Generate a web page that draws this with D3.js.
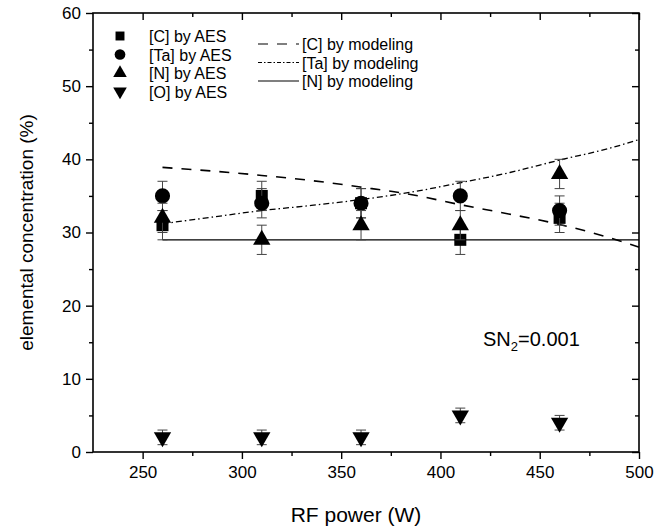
<!doctype html>
<html>
  <head>
    <meta charset="utf-8">
    <title>elemental concentration</title>
    <script src="https://d3js.org/d3.v7.min.js"></script>
    <style type="text/css">
      body { margin: 0; background-color: #ffffff; }
      text { font-family: "Liberation Sans", Arial, sans-serif; fill: #000; }
    </style>
  </head>
  <body>
    <script>
      // data
      var power = [260, 310, 360, 410, 460];
      var cAES = [31, 35, 34, 29, 32];
      var taAES = [35, 34, 34, 35, 33];
      var nAES = [32, 29, 31, 31, 38];
      var oAES = [2, 2, 2, 5, 4];
      var errMain = [2, 2, 2, 2, 2];
      var errO = [1, 1, 1, 1, 1];

      var modelPower = [260, 285, 310, 335, 360, 385, 410, 435, 460, 485, 500];
      var cModel = [38.9, 38.4, 37.8, 37.1, 36.2, 35.2, 33.8, 32.5, 31.1, 29.3, 28.0];
      var taModel = [31.2, 32.1, 33.0, 33.7, 34.5, 35.5, 36.8, 38.2, 39.9, 41.5, 42.7];
      var nModel = [29, 29, 29, 29, 29, 29, 29, 29, 29, 29, 29];

      var xMajor = [250, 300, 350, 400, 450, 500];
      var xMinor = [275, 325, 375, 425, 475];
      var yMajor = [0, 10, 20, 30, 40, 50, 60];
      var yMinor = [5, 15, 25, 35, 45, 55];

      //Width and height
      var w = 671;
      var h = 529;
      var pl = 93, pr = 639, pt = 13, pb = 452;

      var x = d3.scaleLinear().domain([225, 500]).range([pl, pr]);
      var y = d3.scaleLinear().domain([0, 60]).range([pb, pt]);

      var svg = d3.select("body")
        .append("svg")
        .attr("width", w)
        .attr("height", h);

      // model curves
      var line = d3.line()
        .x(function(d) { return x(d[0]); })
        .y(function(d) { return y(d[1]); })
        .curve(d3.curveMonotoneX);

      function drawModel(vals, dash, width) {
        svg.append("path")
          .datum(d3.zip(modelPower, vals))
          .attr("d", line)
          .attr("fill", "none")
          .attr("stroke", "#000")
          .attr("stroke-width", width)
          .attr("stroke-dasharray", dash);
      }
      drawModel(cModel, "10,9", 1.6);
      drawModel(taModel, "6,3,1.5,3", 1.3);
      drawModel(nModel, null, 1.3);

      // error bars + markers
      function drawSeries(vals, errs, symbolType, size, rotate) {
        var g = svg.append("g");
        var pts = d3.zip(power, vals, errs);
        pts.forEach(function(p) {
          var cx = x(p[0]);
          g.append("line").attr("x1", cx).attr("x2", cx)
            .attr("y1", y(p[1] - p[2])).attr("y2", y(p[1] + p[2]))
            .attr("stroke", "#444").attr("stroke-width", 1);
          [p[1] - p[2], p[1] + p[2]].forEach(function(v) {
            g.append("line").attr("x1", cx - 5).attr("x2", cx + 5)
              .attr("y1", y(v)).attr("y2", y(v))
              .attr("stroke", "#444").attr("stroke-width", 1);
          });
        });
        g.selectAll("path.m")
          .data(pts)
          .enter()
          .append("path")
          .attr("class", "m")
          .attr("d", d3.symbol().type(symbolType).size(size))
          .attr("transform", function(d) {
            return "translate(" + x(d[0]) + "," + y(d[1]) + ")" + (rotate ? " rotate(180)" : "");
          })
          .attr("fill", "#000");
      }
      drawSeries(cAES, errMain, d3.symbolSquare, 144, false);
      drawSeries(taAES, errMain, d3.symbolCircle, 180, false);
      drawSeries(nAES, errMain, d3.symbolTriangle, 130, false);
      drawSeries(oAES, errO, d3.symbolTriangle, 130, true);

      // frame
      svg.append("rect")
        .attr("x", pl).attr("y", pt)
        .attr("width", pr - pl).attr("height", pb - pt)
        .attr("fill", "none").attr("stroke", "#000").attr("stroke-width", 1.6);

      // axes
      svg.append("g").attr("transform", "translate(0," + pb + ")")
        .call(d3.axisBottom(x).tickValues(xMajor).tickSize(7).tickPadding(7));
      svg.append("g").attr("transform", "translate(0," + pb + ")")
        .call(d3.axisBottom(x).tickValues(xMinor).tickSize(4).tickFormat(""));
      svg.append("g").attr("transform", "translate(0," + pt + ")")
        .call(d3.axisBottom(x).tickValues(xMajor).tickSize(7).tickFormat(""));
      svg.append("g").attr("transform", "translate(0," + pt + ")")
        .call(d3.axisBottom(x).tickValues(xMinor).tickSize(4).tickFormat(""));

      svg.append("g").attr("transform", "translate(" + pl + ",0)")
        .call(d3.axisLeft(y).tickValues(yMajor).tickSize(7).tickPadding(5));
      svg.append("g").attr("transform", "translate(" + pl + ",0)")
        .call(d3.axisLeft(y).tickValues(yMinor).tickSize(4).tickFormat(""));
      svg.append("g").attr("transform", "translate(" + pr + ",0)")
        .call(d3.axisLeft(y).tickValues(yMajor).tickSize(7).tickFormat(""));
      svg.append("g").attr("transform", "translate(" + pr + ",0)")
        .call(d3.axisLeft(y).tickValues(yMinor).tickSize(4).tickFormat(""));

      svg.selectAll(".domain").remove();
      svg.selectAll(".tick line").attr("stroke", "#000").attr("stroke-width", 1.4);
      svg.selectAll(".tick text").style("font-size", "17px").style("font-family", "Liberation Sans, Arial, sans-serif");

      // axis titles
      svg.append("text")
        .attr("x", 356).attr("y", 522)
        .attr("text-anchor", "middle")
        .style("font-size", "21px")
        .text("RF power (W)");
      svg.append("text")
        .attr("transform", "translate(33," + (pt + pb) / 2 + ") rotate(-90)")
        .attr("text-anchor", "middle")
        .style("font-size", "19px")
        .text("elemental concentration (%)");

      // legend
      var legAES = [
        { label: "[C] by AES", sym: d3.symbolSquare, size: 80, rot: false },
        { label: "[Ta] by AES", sym: d3.symbolCircle, size: 90, rot: false },
        { label: "[N] by AES", sym: d3.symbolTriangle, size: 80, rot: false },
        { label: "[O] by AES", sym: d3.symbolTriangle, size: 80, rot: true }
      ];
      legAES.forEach(function(d, i) {
        var ly = 36 + i * 18.5;
        svg.append("path")
          .attr("d", d3.symbol().type(d.sym).size(d.size))
          .attr("transform", "translate(120," + ly + ")" + (d.rot ? " rotate(180)" : ""))
          .attr("fill", "#000");
        svg.append("text")
          .attr("x", 149).attr("y", ly + 6)
          .style("font-size", "16px")
          .text(d.label);
      });
      var legModel = [
        { label: "[C] by modeling", dash: "10,9" },
        { label: "[Ta] by modeling", dash: "4,2,1.5,2" },
        { label: "[N] by modeling", dash: null }
      ];
      legModel.forEach(function(d, i) {
        var ly = 44 + i * 18.5;
        svg.append("line")
          .attr("x1", 258).attr("x2", 299)
          .attr("y1", ly).attr("y2", ly)
          .attr("stroke", "#000").attr("stroke-width", 1.2)
          .attr("stroke-dasharray", d.dash);
        svg.append("text")
          .attr("x", 302).attr("y", ly + 6)
          .style("font-size", "16px")
          .text(d.label);
      });

      // annotation
      var ann = svg.append("text")
        .attr("x", 483).attr("y", 346)
        .style("font-size", "20px");
      ann.append("tspan").text("SN");
      ann.append("tspan").attr("dy", 5).style("font-size", "13px").text("2");
      ann.append("tspan").attr("dy", -5).text("=0.001");
    </script>
  </body>
</html>
